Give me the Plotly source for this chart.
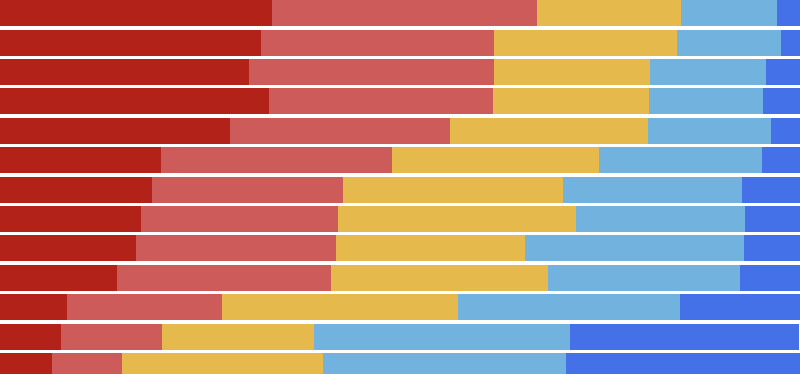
import plotly.graph_objects as go

rows = list(range(13))
series_names = ["s1", "s2", "s3", "s4", "s5"]
s1 = [34.0, 32.6, 31.1, 33.6, 28.8, 20.1, 19.0, 17.6, 17.0, 14.6, 8.4, 7.6, 6.5]
s2 = [33.1, 29.1, 30.6, 28.0, 27.4, 28.9, 23.9, 24.6, 25.0, 26.8, 19.3, 12.6, 8.8]
s3 = [18.0, 22.9, 19.5, 19.5, 24.8, 25.9, 27.5, 29.8, 23.6, 27.1, 29.5, 19.0, 25.1]
s4 = [12.0, 13.0, 14.5, 14.3, 15.4, 20.4, 22.4, 21.1, 27.4, 24.0, 27.8, 32.1, 30.4]
s5 = [2.9, 2.4, 4.3, 4.6, 3.8, 4.8, 7.3, 6.9, 7.0, 7.5, 15.1, 28.6, 29.3]
colors = ["#b22218", "#cc5b59", "#e5b94b", "#72b2df", "#4470e8"]

fig = go.Figure()
for name, vals, c in zip(series_names, [s1, s2, s3, s4, s5], colors):
    fig.add_trace(go.Bar(y=rows, x=vals, orientation="h", name=name,
                         marker=dict(color=c, line=dict(width=0)), width=0.885))

fig.update_layout(
    barmode="stack", width=800, height=374,
    margin=dict(l=0, r=0, t=0, b=0),
    paper_bgcolor="white", plot_bgcolor="white",
    showlegend=False,
    xaxis=dict(range=[0, 100], visible=False),
    yaxis=dict(range=[12.27, -0.45], visible=False),
)
fig.write_html("out.html", config={"displayModeBar": False},
               post_script="document.body.style.margin='0';document.body.style.overflow='hidden';")
